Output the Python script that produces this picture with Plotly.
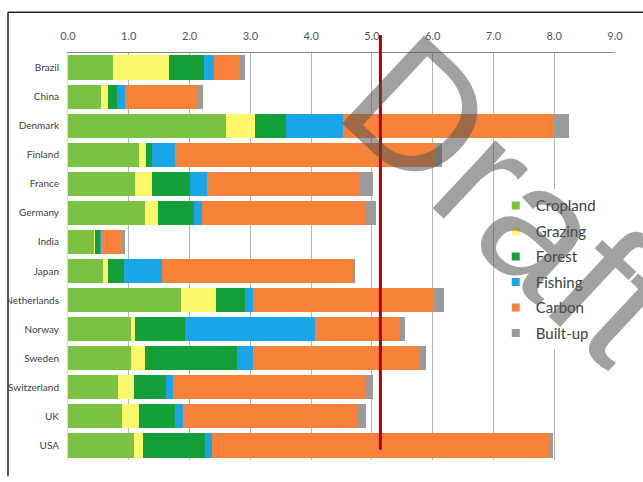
import plotly.graph_objects as go

# Ecological footprint per person (global hectares), by component
countries = ["Brazil", "China", "Denmark", "Finland", "France", "Germany", "India",
             "Japan", "Netherlands", "Norway", "Sweden", "Switzerland", "UK", "USA"]

cropland = [0.74, 0.55, 2.60, 1.17, 1.11, 1.26, 0.43, 0.58, 1.86, 1.03, 1.03, 0.83, 0.89, 1.09]
grazing  = [0.92, 0.11, 0.48, 0.12, 0.28, 0.22, 0.01, 0.08, 0.57, 0.08, 0.24, 0.26, 0.28, 0.15]
forest   = [0.58, 0.14, 0.51, 0.10, 0.62, 0.59, 0.09, 0.26, 0.48, 0.82, 1.51, 0.53, 0.59, 1.02]
fishing  = [0.16, 0.13, 0.93, 0.37, 0.27, 0.14, 0.02, 0.63, 0.14, 2.13, 0.27, 0.10, 0.13, 0.11]
carbon   = [0.43, 1.21, 3.47, 4.29, 2.51, 2.68, 0.35, 3.14, 2.98, 1.41, 2.72, 3.19, 2.87, 5.54]
builtup  = [0.08, 0.08, 0.25, 0.10, 0.22, 0.18, 0.03, 0.04, 0.16, 0.08, 0.12, 0.10, 0.14, 0.07]

reference_value = 5.14

x_ticks = [0, 1, 2, 3, 4, 5, 6, 7, 8, 9]

series = [
    ("Cropland", cropland, "#7cc242"),
    ("Grazing", grazing, "#fbf86b"),
    ("Forest", forest, "#13a03b"),
    ("Fishing", fishing, "#19a5e8"),
    ("Carbon", carbon, "#f8823a"),
    ("Built-up", builtup, "#9a9a9a"),
]

fig = go.Figure()
for name, vals, color in series:
    fig.add_trace(go.Bar(
        y=countries, x=vals, orientation="h", name=name,
        marker=dict(color=color, line=dict(width=0)),
        showlegend=False, hoverinfo="x+y+name",
    ))
    # legend entry with a small square swatch
    fig.add_trace(go.Scatter(
        x=[None], y=[None], mode="markers", name=name, legendgroup=name,
        marker=dict(symbol="square", size=8, color=color),
    ))

fig.update_layout(
    width=643, height=482,
    margin=dict(l=68, r=28, t=53, b=22),
    paper_bgcolor="white", plot_bgcolor="white",
    barmode="stack", bargap=0.17,
    font=dict(family="Lato, 'Liberation Sans', sans-serif", color="#404040"),
    xaxis=dict(
        side="top", range=[0, 9], tickvals=x_ticks, tickformat=".1f",
        showgrid=True, gridcolor="#b5b5b5", gridwidth=1,
        showline=True, linecolor="#8a8a8a", linewidth=1,
        ticks="", ticklabelstandoff=8, zeroline=False,
        tickfont=dict(size=11, color="#555555"),
        automargin=False, fixedrange=True,
    ),
    yaxis=dict(
        autorange="reversed", showgrid=False, zeroline=False,
        showline=True, linecolor="#dcdcdc", linewidth=1,
        ticks="", ticklabelstandoff=6,
        tickfont=dict(size=10, color="#404040"),
        automargin=False, fixedrange=True,
    ),
    legend=dict(
        x=0.782, y=0.665, xanchor="left", yanchor="top",
        bgcolor="white", borderwidth=0,
        font=dict(size=15, color="#404040"),
        traceorder="grouped", tracegroupgap=3,
        itemwidth=30,
    ),
)

# reference line
fig.add_shape(type="line", xref="x", yref="paper",
              x0=reference_value, x1=reference_value, y0=0.025, y1=1.044,
              line=dict(color="#b10000", width=3), layer="above")

# outer frame (left and top edges) and clipping strip for long labels
fig.add_shape(type="rect", xref="paper", yref="paper",
              x0=-0.13, x1=-0.1097, y0=-0.06, y1=1.1,
              fillcolor="white", line=dict(width=0), layer="above")
fig.add_shape(type="line", xref="paper", yref="paper",
              x0=-0.1097, x1=-0.1097, y0=-0.04, y1=1.1,
              line=dict(color="#222222", width=1.5), layer="above")
fig.add_shape(type="line", xref="paper", yref="paper",
              x0=-0.1097, x1=1.1, y0=1.1, y1=1.1,
              line=dict(color="#222222", width=1.5), layer="above")

# watermark
fig.add_annotation(
    text="Draft", xref="paper", yref="paper", x=0.81, y=0.643,
    xanchor="center", yanchor="middle",
    showarrow=False, textangle=43, opacity=0.55,
    font=dict(size=175, color="#555555", family="Liberation Sans, Arial, sans-serif"),
)

fig.write_html("out.html")
